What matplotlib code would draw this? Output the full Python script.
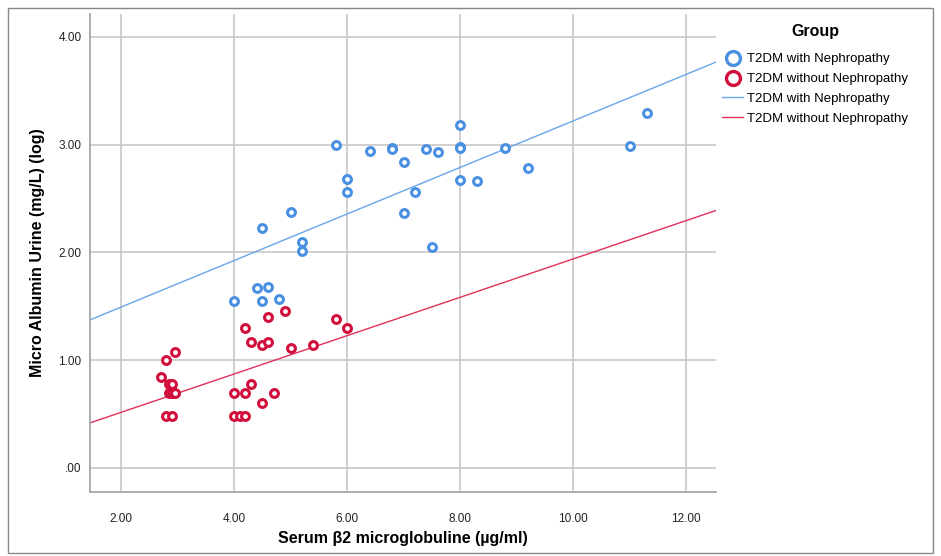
import numpy as np
import matplotlib.pyplot as plt
from matplotlib.lines import Line2D
from matplotlib.patches import Rectangle

plt.rcParams['font.family'] = ['Liberation Sans', 'DejaVu Sans']

# T2DM with nephropathy
with_x = [4.0, 4.4, 4.5, 4.5, 4.6, 4.8, 5.0, 5.2, 5.2, 5.8, 6.0, 6.0, 6.4, 6.8, 6.8,
          7.0, 7.0, 7.2, 7.4, 7.5, 7.6, 8.0, 8.0, 8.0, 8.0, 8.3, 8.8, 9.2, 11.0, 11.3]
with_y = [1.55, 1.67, 1.55, 2.23, 1.68, 1.57, 2.38, 2.10, 2.01, 3.00, 2.68, 2.56, 2.94, 2.97, 2.96,
          2.84, 2.37, 2.56, 2.96, 2.05, 2.93, 3.18, 2.98, 2.97, 2.67, 2.66, 2.97, 2.78, 2.99, 3.29]

# T2DM without nephropathy
without_x = [2.7, 2.8, 2.95, 2.85, 2.9, 2.85, 2.9, 2.95, 2.8, 2.9,
             4.0, 4.2, 4.3, 4.7, 4.5, 4.0, 4.1, 4.2,
             4.2, 4.6, 4.9, 4.3, 4.5, 4.6, 5.0, 5.4, 5.8, 6.0]
without_y = [0.84, 1.00, 1.08, 0.78, 0.78, 0.70, 0.70, 0.70, 0.48, 0.48,
             0.70, 0.70, 0.78, 0.70, 0.60, 0.48, 0.48, 0.48,
             1.30, 1.40, 1.46, 1.17, 1.14, 1.17, 1.11, 1.14, 1.38, 1.30]

# fit lines (intercept, slope) as drawn in the chart
with_fit = (1.061, 0.216)
without_fit = (0.160, 0.178)

blue = '#4a90e2'
red = '#d20f3c'

fig = plt.figure(figsize=(9.41, 5.56), dpi=100)
ax = fig.add_axes([0.0956, 0.1151, 0.6655, 0.8597])

ax.set_xlim(1.451, 12.53)
ax.set_ylim(-0.223, 4.213)
ax.set_xticks([2, 4, 6, 8, 10, 12])
ax.set_yticks([0, 1, 2, 3, 4])
ax.set_xticklabels(['2.00', '4.00', '6.00', '8.00', '10.00', '12.00'])
ax.set_yticklabels(['.00', '1.00', '2.00', '3.00', '4.00'])
ax.grid(True, color='#c8c8c8', linewidth=1.2)
ax.set_axisbelow(True)
for s in ['top', 'right']:
    ax.spines[s].set_visible(False)
for s in ['left', 'bottom']:
    ax.spines[s].set_color('#a0a0a0')
    ax.spines[s].set_linewidth(1.2)
ax.tick_params(length=0, labelsize=8.5, colors='#222222')
ax.tick_params(axis='x', pad=15)
ax.tick_params(axis='y', pad=6)

xx = np.array(ax.get_xlim())
ax.plot(xx, with_fit[0] + with_fit[1] * xx, color='#6aa6ea', linewidth=1)
ax.plot(xx, without_fit[0] + without_fit[1] * xx, color='#e0315a', linewidth=1)

ax.scatter(with_x, with_y, s=32, facecolors='white', edgecolors=blue, linewidths=2.2, zorder=3)
ax.scatter(without_x, without_y, s=32, facecolors='white', edgecolors=red, linewidths=2.2, zorder=3)

ax.set_xlabel('Serum β2 microglobuline (µg/ml)', fontsize=11.5, fontweight='bold')
ax.set_ylabel('Micro Albumin Urine (mg/L) (log)', fontsize=11.5, fontweight='bold')
ax.xaxis.set_label_coords(0.5, -0.097)
ax.xaxis.label.set_va('center')
ax.yaxis.set_label_coords(-0.084, 0.5)
ax.yaxis.label.set_va('center')

handles = [
    Line2D([], [], marker='o', linestyle='', markersize=10, markerfacecolor='white',
           markeredgecolor=blue, markeredgewidth=2.4),
    Line2D([], [], marker='o', linestyle='', markersize=10, markerfacecolor='white',
           markeredgecolor=red, markeredgewidth=2.4),
    Line2D([], [], color='#6aa6ea', linewidth=1),
    Line2D([], [], color='#e0315a', linewidth=1),
]
labels = ['T2DM with Nephropathy', 'T2DM without Nephropathy',
          'T2DM with Nephropathy', 'T2DM without Nephropathy']
leg = fig.legend(handles, labels, loc='upper left', bbox_to_anchor=(0.755, 0.978),
                 frameon=False, fontsize=9.5, title='Group',
                 title_fontproperties={'weight': 'bold', 'size': 11.5},
                 handlelength=1.6, handletextpad=0.3, labelspacing=0.58)
leg._legend_box.sep = 10

fig.patches.append(Rectangle((0.008, 0.006), 0.984, 0.98, transform=fig.transFigure,
                             fill=False, edgecolor='#888888', linewidth=1))

fig.savefig('out.png', dpi=100)
